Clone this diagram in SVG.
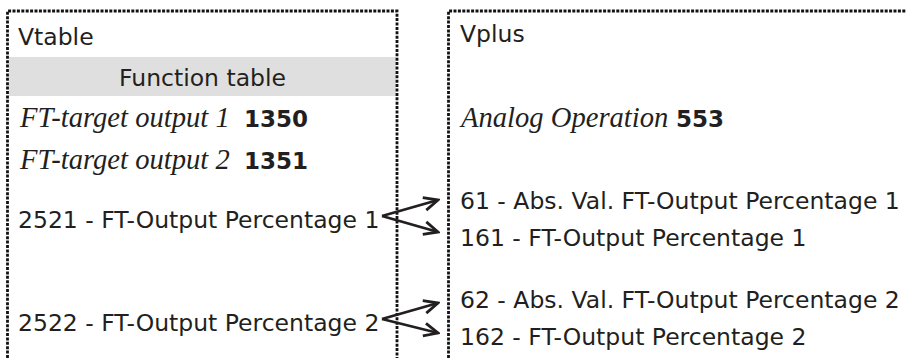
<svg xmlns="http://www.w3.org/2000/svg" width="907" height="358" viewBox="0 0 907 358">
<style>
.border{fill:none;stroke:#111;stroke-width:2.8;stroke-dasharray:3 1.4}
.t{font-family:"DejaVu Sans",Verdana,sans-serif;font-size:23.5px;fill:#231f20}
.b{font-family:"DejaVu Sans",Verdana,sans-serif;font-size:23px;font-weight:bold;fill:#231f20}
.i{font-family:"Liberation Serif","Times New Roman",serif;font-size:28.6px;font-style:italic;fill:#231f20}
.arr{fill:none;stroke:#231f20;stroke-width:2.8;marker-end:url(#ah)}
</style>
<defs>
<marker id="ah" markerUnits="userSpaceOnUse" markerWidth="18" markerHeight="18" refX="16" refY="9" orient="auto" viewBox="0 0 18 18">
<path d="M2,2.5 L16,9 L2,15.5" fill="none" stroke="#231f20" stroke-width="2.8" stroke-linejoin="miter"/>
</marker>
</defs>
<rect width="907" height="358" fill="#ffffff"/>
<g id="vtable">
<rect x="9" y="57" width="387" height="39" fill="#dfdfdf"/>
<path class="border" d="M7.5,358 V11 H397 V358"/>
<text class="t" x="18" y="45">Vtable</text>
<text class="t" x="202.5" y="86" text-anchor="middle">Function table</text>
<text class="i" x="20" y="127">FT-target output 1</text>
<text class="b" x="244" y="127">1350</text>
<text class="i" x="20" y="169">FT-target output 2</text>
<text class="b" x="244" y="169">1351</text>
<text class="t" x="18" y="228">2521 - FT-Output Percentage 1</text>
<text class="t" x="18" y="331">2522 - FT-Output Percentage 2</text>
</g>
<g id="vplus">
<path class="border" d="M448.5,358 V11 H906"/>
<text class="t" x="460" y="42">Vplus</text>
<text class="i" x="461" y="127">Analog Operation</text>
<text class="b" x="676" y="127">553</text>
<text class="t" x="460" y="209">61 - Abs. Val. FT-Output Percentage 1</text>
<text class="t" x="460" y="246">161 - FT-Output Percentage 1</text>
<text class="t" x="460" y="308">62 - Abs. Val. FT-Output Percentage 2</text>
<text class="t" x="460" y="345">162 - FT-Output Percentage 2</text>
</g>
<g id="connectors">
<path class="arr" d="M382,216 L438,200"/>
<path class="arr" d="M382,216 L438,232"/>
<path class="arr" d="M382,319 L438,303"/>
<path class="arr" d="M382,319 L438,333"/>
</g>
</svg>
